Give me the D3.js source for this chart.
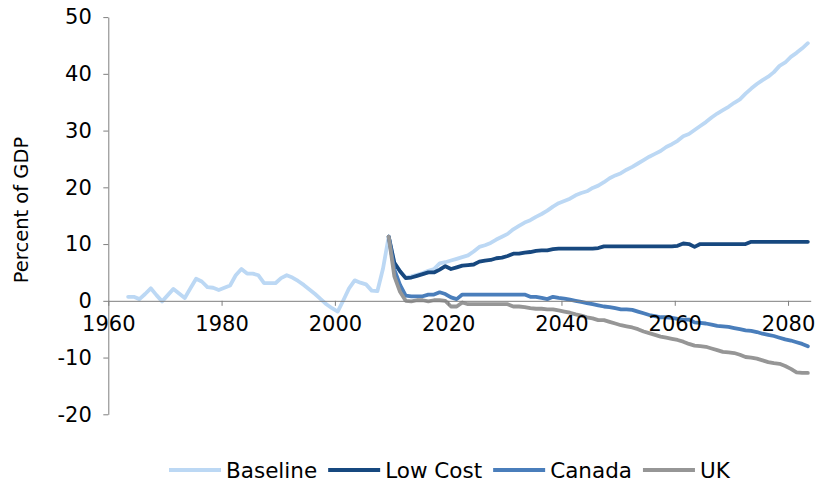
<!DOCTYPE html>
<html>
<head>
<meta charset="utf-8">
<script src="https://cdn.jsdelivr.net/npm/d3@7"></script>
<style>
  html, body { margin: 0; padding: 0; background: #fff; }
  svg { display: block; font-family: "DejaVu Sans", Verdana, sans-serif; }
</style>
</head>
<body>
<svg id="chart" width="818" height="487"></svg>
<script>
// ---- data ----
const baselineStart = 1963;
const baselineValues = [
  0.7, 0.7, 0.3, 1.2, 2.2, 1.0, -0.1, 1.0, 2.1, 1.3,
  0.5, 2.2, 3.9, 3.4, 2.4, 2.3, 1.9, 2.3, 2.7, 4.5,
  5.6, 4.8, 4.8, 4.5, 3.1, 3.1, 3.1, 4.0, 4.5, 4.1,
  3.5, 2.8, 2.0, 1.2, 0.3, -0.6, -1.3, -1.9, 0.1, 2.2,
  3.6, 3.2, 2.9, 1.8, 1.7, 5.7, 11.3, 6.7, 5.2, 4.1,
  4.3, 4.6, 4.9, 5.3, 5.6, 6.6, 6.8, 7.1, 7.4, 7.7,
  8.0, 8.7, 9.5, 9.8, 10.2, 10.8, 11.3, 11.8, 12.6, 13.2,
  13.8, 14.2, 14.8, 15.3, 15.9, 16.6, 17.2, 17.6, 18.0, 18.6,
  19.0, 19.3, 19.9, 20.3, 20.9, 21.6, 22.1, 22.5, 23.1, 23.6,
  24.2, 24.8, 25.4, 25.9, 26.4, 27.1, 27.6, 28.2, 29.0, 29.4,
  30.1, 30.8, 31.5, 32.3, 33.0, 33.6, 34.2, 34.9, 35.5, 36.5,
  37.4, 38.2, 38.9, 39.5, 40.3, 41.4, 42.0, 43.0, 43.7, 44.5, 45.4
];
const projectionStart = 2009;
const lowCostValues = [
  11.3, 6.7, 5.2, 4.0, 4.1, 4.4, 4.7, 5.0, 5.0, 5.5,
  6.1, 5.6, 5.9, 6.2, 6.3, 6.4, 6.9, 7.1, 7.2, 7.5,
  7.6, 7.9, 8.3, 8.3, 8.5, 8.6, 8.8, 8.9, 8.9, 9.1,
  9.2, 9.2, 9.2, 9.2, 9.2, 9.2, 9.2, 9.3, 9.6, 9.6,
  9.6, 9.6, 9.6, 9.6, 9.6, 9.6, 9.6, 9.6, 9.6, 9.6,
  9.6, 9.7, 10.1, 10.0, 9.5, 10.0, 10.0, 10.0, 10.0, 10.0,
  10.0, 10.0, 10.0, 10.0, 10.4, 10.4, 10.4, 10.4, 10.4, 10.4,
  10.4, 10.4, 10.4, 10.4, 10.4
];
const canadaValues = [
  11.3, 5.5, 2.8, 0.9, 0.8, 0.8, 0.8, 1.1, 1.1, 1.5,
  1.2, 0.6, 0.3, 1.1, 1.1, 1.1, 1.1, 1.1, 1.1, 1.1,
  1.1, 1.1, 1.1, 1.1, 1.1, 0.7, 0.7, 0.5, 0.3, 0.7,
  0.5, 0.4, 0.2, 0.0, -0.2, -0.4, -0.6, -0.8, -1.0, -1.1,
  -1.3, -1.5, -1.5, -1.6, -1.9, -2.2, -2.5, -2.7, -2.9, -2.9,
  -3.0, -3.2, -3.3, -3.3, -3.8, -3.9, -4.0, -4.2, -4.4, -4.5,
  -4.6, -4.8, -5.0, -5.2, -5.3, -5.5, -5.8, -6.0, -6.2, -6.5,
  -6.8, -7.0, -7.3, -7.6, -8.0
];
const ukValues = [
  11.3, 4.3, 1.6, 0.0, -0.1, 0.1, 0.1, -0.1, 0.1, 0.1,
  0.0, -1.0, -1.0, -0.3, -0.6, -0.6, -0.6, -0.6, -0.6, -0.6,
  -0.6, -0.6, -1.0, -1.0, -1.1, -1.3, -1.4, -1.4, -1.5, -1.5,
  -1.7, -1.9, -2.1, -2.4, -2.6, -2.9, -3.1, -3.4, -3.4, -3.7,
  -4.0, -4.3, -4.5, -4.7, -5.0, -5.4, -5.7, -6.0, -6.3, -6.5,
  -6.7, -6.9, -7.2, -7.6, -7.9, -8.0, -8.1, -8.4, -8.7, -9.0,
  -9.1, -9.2, -9.5, -9.9, -10.0, -10.2, -10.5, -10.8, -11.0, -11.1,
  -11.5, -12.0, -12.6, -12.7, -12.7
];
const seriesNames = ["Baseline", "Low Cost", "Canada", "UK"];
const seriesColors = ["#bcd8f4", "#17487f", "#4a7ebb", "#969696"];
const xTickValues = [1960, 1980, 2000, 2020, 2040, 2060, 2080];
const yTickValues = [-20, -10, 0, 10, 20, 30, 40, 50];
const yTitle = "Percent of GDP";

// ---- build series ----
const toPoints = (start, vals) => vals.map((v, i) => ({ year: start + i, value: v }));
const series = [
  toPoints(baselineStart, baselineValues),
  toPoints(projectionStart, lowCostValues),
  toPoints(projectionStart, canadaValues),
  toPoints(projectionStart, ukValues)
];

const svg = d3.select("#chart");
const x = d3.scaleLinear().domain([1960, 2084]).range([108.3, 810.7]);
const y = d3.scaleLinear().domain([-20, 50]).range([414.3, 17.1]);

// lines
const line = d3.line().x(d => x(d.year + 0.5)).y(d => y(d.value)).curve(d3.curveLinear);
svg.append("g").selectAll("path").data(series).join("path")
  .attr("d", line)
  .attr("fill", "none")
  .attr("stroke", (d, i) => seriesColors[i])
  .attr("stroke-width", 3.8)
  .attr("stroke-linejoin", "round")
  .attr("stroke-linecap", "round");

const fmt = d => String(d);
// y axis
const yAxis = svg.append("g")
  .attr("transform", `translate(${x(1960)},0)`)
  .call(d3.axisLeft(y).tickValues(yTickValues).tickSize(5).tickSizeOuter(0).tickPadding(11.5).tickFormat(fmt));
// x axis
const xAxis = svg.append("g")
  .attr("transform", `translate(0,${y(0)})`)
  .call(d3.axisBottom(x).tickValues(xTickValues).tickSize(5).tickSizeOuter(0).tickPadding(10.5).tickFormat(fmt));

[yAxis, xAxis].forEach(g => {
  g.selectAll("path.domain").attr("stroke", "#7f7f7f").attr("stroke-width", 1);
  g.selectAll(".tick line").attr("stroke", "#7f7f7f").attr("stroke-width", 1);
  g.selectAll(".tick text").attr("fill", "#000").style("font-size", "21px")
    .style("font-family", "'DejaVu Sans', Verdana, sans-serif");
});

// y title
svg.append("text")
  .attr("transform", "translate(28,210) rotate(-90)")
  .attr("text-anchor", "middle")
  .style("font-size", "19.5px")
  .attr("fill", "#000")
  .text(yTitle);

// legend
const legend = svg.append("g");
let lx = 169;
const ly = 470;
seriesNames.forEach((name, i) => {
  legend.append("line")
    .attr("x1", lx).attr("x2", lx + 52)
    .attr("y1", ly).attr("y2", ly)
    .attr("stroke", seriesColors[i]).attr("stroke-width", 3.8);
  lx += 52 + 5;
  const t = legend.append("text")
    .attr("x", lx).attr("y", ly + 8)
    .style("font-size", "21.5px")
    .attr("fill", "#000")
    .text(name);
  lx += t.node().getComputedTextLength() + 11;
});
</script>
</body>
</html>
